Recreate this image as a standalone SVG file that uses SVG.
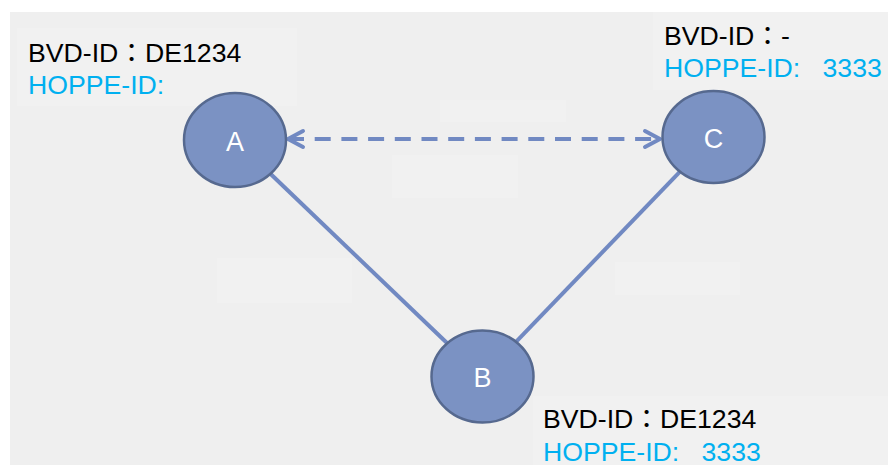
<svg xmlns="http://www.w3.org/2000/svg" width="888" height="466" viewBox="0 0 888 466">
  <style>
    .node { fill: #7b92c3; stroke: #56698f; stroke-width: 2.5; }
    .nlabel { font-family: "Liberation Sans", Arial, sans-serif; font-size: 27px; fill: #ffffff; text-anchor: middle; }
    .bvd { font-family: "Liberation Sans", "Noto Sans CJK JP", sans-serif; font-size: 26.67px; fill: #000000; }
    .hoppe { font-family: "Liberation Sans", "Noto Sans CJK JP", sans-serif; font-size: 26.67px; fill: #00b0f0; }
    .edge { fill: none; stroke: #7189c2; stroke-width: 4; }
    .dashed { stroke-dasharray: 16 10.7; }
    .faint { fill: #f1f1f1; }
  </style>
  <defs>
    <marker id="chev" markerUnits="userSpaceOnUse" markerWidth="24" markerHeight="24" viewBox="-18 -12 24 24" refX="0" refY="0" orient="auto-start-reverse">
      <path d="M -15 -8 L 0 0 L -15 8" fill="none" stroke="#7189c2" stroke-width="4" stroke-linecap="round" stroke-linejoin="round"/>
    </marker>
  </defs>

  <rect x="0" y="0" width="888" height="466" fill="#ffffff"/>
  <rect x="10" y="12" width="878" height="453" fill="#efefef"/>

  <!-- faint background boxes -->
  <rect class="faint" x="17" y="28" width="280" height="78"/>
  <rect class="faint" x="653" y="12" width="235" height="78"/>
  <rect class="faint" x="533" y="396" width="355" height="69"/>
  <rect class="faint" x="440" y="100" width="126" height="22"/>
  <rect class="faint" x="392" y="155" width="126" height="43"/>
  <rect class="faint" x="217" y="258" width="135" height="45"/>
  <rect class="faint" x="615" y="262" width="125" height="33"/>

  <g id="connectors">
    <line class="edge" x1="270.4" y1="173.8" x2="447" y2="343"/>
    <line class="edge" x1="680" y1="171.7" x2="516" y2="341.8"/>
    <line class="edge dashed" x1="288" y1="139" x2="660" y2="139" marker-start="url(#chev)" marker-end="url(#chev)"/>
  </g>

  <g id="node-A">
    <ellipse class="node" cx="235" cy="140" rx="51" ry="47"/>
    <text class="nlabel" x="235" y="150.5">A</text>
  </g>
  <g id="node-C">
    <ellipse class="node" cx="713.5" cy="137" rx="51" ry="46"/>
    <text class="nlabel" x="713.5" y="147.5">C</text>
  </g>
  <g id="node-B">
    <ellipse class="node" cx="482.5" cy="376.5" rx="51" ry="46"/>
    <text class="nlabel" x="482.5" y="387">B</text>
  </g>

  <g id="label-A">
    <text class="bvd" x="28" y="62">BVD-ID：DE1234</text>
    <text class="hoppe" x="28" y="94">HOPPE-ID:</text>
  </g>
  <g id="label-C">
    <text class="bvd" x="664" y="45">BVD-ID：-</text>
    <text class="hoppe" x="664" y="77" xml:space="preserve">HOPPE-ID:   3333</text>
  </g>
  <g id="label-B">
    <text class="bvd" x="543" y="428">BVD-ID：DE1234</text>
    <text class="hoppe" x="543" y="461" xml:space="preserve">HOPPE-ID:   3333</text>
  </g>
</svg>
